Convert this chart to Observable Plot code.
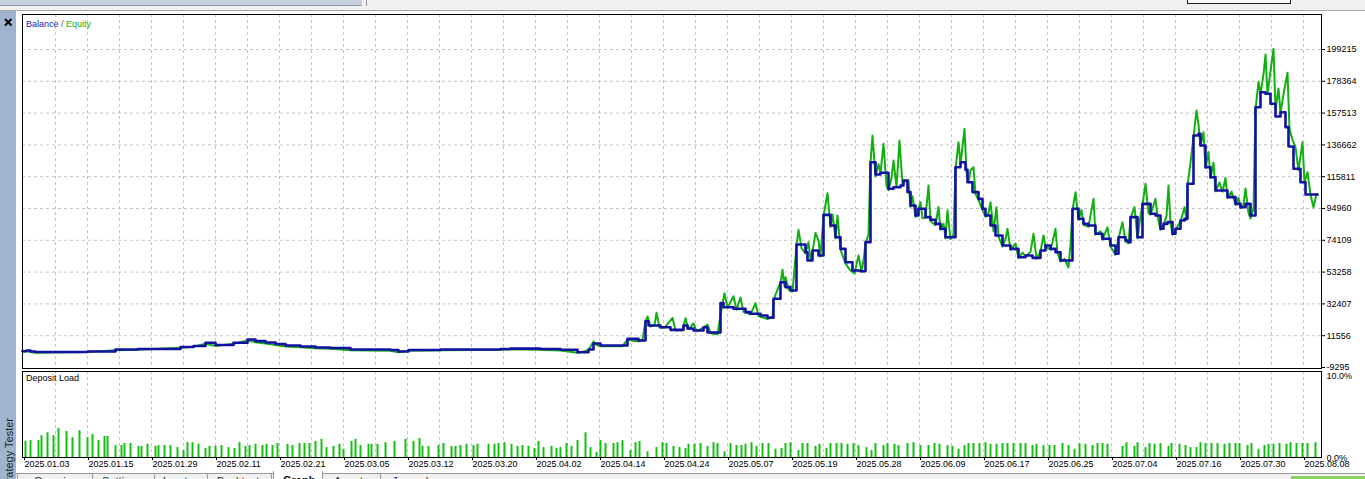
<!DOCTYPE html>
<html><head><meta charset="utf-8">
<script src="https://cdn.jsdelivr.net/npm/d3@7"></script>
<script src="https://cdn.jsdelivr.net/npm/@observablehq/plot@0.6"></script>
<style>
body{margin:0;background:#fff;}
#wrap{position:relative;width:1365px;height:479px;overflow:hidden;background:#fff;font-family:"Liberation Sans",Arial,sans-serif;}
.abs{position:absolute;}
#wrap svg{position:absolute;left:0;}
</style></head><body><div id="wrap"></div>
<script>
// ---- data ----
const yTicks = [-9295, 11556, 32407, 53258, 74109, 94960, 115811, 136662, 157513, 178364, 199215];
const loadTicks = [0, 10];
const dateLabels = ["2025.01.03","2025.01.15","2025.01.29","2025.02.11","2025.02.21","2025.03.05","2025.03.12","2025.03.20","2025.04.02","2025.04.14","2025.04.24","2025.05.07","2025.05.19","2025.05.28","2025.06.09","2025.06.17","2025.06.25","2025.07.04","2025.07.16","2025.07.30","2025.08.08"];
const dateBars = [1,65,129,193,257,321,385,449,513,577,641,705,769,833,897,961,1025,1089,1153,1217,1281];

// balance: [bar, value]
const balance = [[0,1400],[4,1850],[8,1200],[13,850],[28,900],[65,1200],[93,2500],[115,2800],[158,4100],[171,4800],
[183,6900],[193,5500],[211,6900],[225,9100],[233,8000],[243,7100],[253,6100],[263,5100],[278,4500],[293,3800],
[308,3500],[328,2500],[368,2200],[376,1200],[386,2200],[418,2500],[478,2800],[488,3100],[518,2800],[538,2300],
[555,740],[566,2500],[571,6400],[578,5130],[605,9500],[616,8400],[623,21000],[626,18200],[638,17100],[648,15400],
[661,18200],[665,16300],[671,15000],[681,17100],[685,13700],[698,32900],[701,30200],[711,29200],[723,27000],[728,25900],
[738,24800],[745,23300],[751,35800],[758,46600],[763,43400],[768,41200],[774,71400],[783,66300],[785,60900],[790,67400],
[796,64100],[801,90800],[808,83800],[813,76100],[818,68500],[823,59700],[830,54300],[838,53800],[843,72900],[848,125300],
[853,117300],[858,118400],[866,107900],[871,108900],[878,110000],[881,113300],[885,105700],[888,96900],[893,90400],[896,94800],
[903,89300],[908,87600],[913,84900],[918,81700],[923,76100],[933,122000],[938,125300],[943,120400],[945,112200],[950,105700],
[956,101300],[960,94800],[963,90400],[968,83800],[973,77300],[980,70700],[988,68500],[996,63000],[1003,64100],[1010,62600],
[1018,67400],[1023,70700],[1028,68500],[1033,66300],[1038,60900],[1050,94800],[1056,88200],[1061,84900],[1066,83800],[1073,78400],
[1080,75100],[1088,70700],[1093,65300],[1096,76100],[1103,74000],[1106,72900],[1108,89300],[1115,76100],[1120,98000],[1128,91500],
[1133,90400],[1138,81700],[1141,84900],[1145,86000],[1150,78400],[1153,81700],[1158,87100],[1162,88200],[1165,111200],[1171,142800],
[1176,143900],[1178,136300],[1183,122000],[1188,115500],[1193,106800],[1205,102400],[1213,98000],[1218,95800],[1223,98000],[1228,90400],
[1233,161400],[1238,171200],[1243,170200],[1248,163600],[1253,155300],[1258,158100],[1263,148300],[1266,135600],[1271,121000],[1278,112200],
[1283,104100],[1295,104100]];

// equity: [bar, value]
const equity = [[0,1000],[4,1500],[8,800],[13,400],[28,500],[65,800],[93,2000],[115,2300],[158,3600],[171,4300],
[183,6300],[193,4800],[211,6200],[225,8500],[233,7300],[243,6500],[253,5500],[263,4500],[278,4000],[293,3300],
[308,3000],[328,2000],[368,1700],[376,700],[386,1700],[418,2000],[478,2300],[488,2600],[518,2300],[538,1800],
[555,300],[566,2000],[571,7800],[574,5500],[578,4600],[600,4700],[605,9000],[612,8000],[616,7900],[620,9000],
[623,21000],[625,24150],[628,17500],[632,18500],[634,26570],[637,17000],[642,16800],[650,23290],[653,15000],[660,15200],
[663,23000],[666,15800],[671,19560],[674,14600],[681,16800],[685,18900],[688,13200],[695,12500],[698,25000],[702,39430],
[705,29800],[711,37460],[714,28500],[718,36600],[721,27200],[728,25500],[733,32870],[736,24500],[745,22500],[750,24000],
[751,35000],[756,43360],[758,46000],[760,54770],[762,44000],[763,49920],[766,42000],[770,40500],[772,55000],[774,71000],
[776,81000],[779,69000],[783,65500],[786,72860],[788,61000],[790,66500],[793,79030],[796,73980],[798,63500],[801,90000],
[805,104990],[808,83000],[810,91000],[813,75500],[815,90370],[818,68000],[823,59000],[827,55000],[832,52340],[836,64140],
[839,53500],[841,60870],[843,72000],[846,78000],[848,125000],[850,142830],[853,116000],[856,124000],[858,118000],[861,137390],
[864,110000],[866,107000],[869,115000],[871,126440],[874,109000],[877,139550],[880,111000],[883,113000],[886,113320],[888,96000],
[890,103000],[893,89500],[896,95000],[898,99090],[900,88600],[903,89000],[906,110040],[908,86800],[913,84000],[916,96000],
[918,81000],[921,85000],[923,75500],[925,93650],[928,74800],[931,78000],[933,121000],[936,138430],[938,124000],[942,147220],
[944,119000],[946,112000],[948,120000],[951,122040],[953,104500],[956,100500],[960,94000],[963,89500],[966,92000],[968,99090],
[971,80000],[974,95810],[976,76500],[980,70000],[983,75000],[985,81650],[988,67800],[993,72000],[996,62500],[1000,66000],
[1003,63500],[1008,66500],[1011,78370],[1014,62000],[1018,66800],[1021,77260],[1023,70000],[1028,68000],[1030,73000],[1033,81650],
[1035,65700],[1038,60200],[1042,62000],[1046,56270],[1048,71810],[1050,94000],[1053,105650],[1056,87500],[1059,94000],[1061,84200],
[1066,83000],[1071,101320],[1073,77800],[1078,80000],[1080,74500],[1085,82700],[1088,70000],[1093,64700],[1096,75500],[1100,85980],
[1103,73300],[1106,72200],[1108,88600],[1112,95810],[1115,75500],[1118,90000],[1120,97500],[1123,111160],[1126,92000],[1128,90900],
[1133,101320],[1135,89800],[1138,81000],[1141,84200],[1144,90000],[1146,110040],[1148,85400],[1150,77800],[1153,81000],[1158,86500],
[1162,95810],[1164,87500],[1165,110000],[1168,125000],[1171,142000],[1174,159220],[1176,150000],[1178,136000],[1181,145000],[1183,121500],
[1186,132000],[1188,115000],[1191,125000],[1193,106200],[1197,112000],[1200,106000],[1203,115000],[1205,101800],[1209,106000],[1213,97400],
[1216,102000],[1218,95200],[1221,97400],[1223,108000],[1226,92000],[1228,88400],[1231,95000],[1233,160000],[1236,178000],[1238,170000],
[1241,183000],[1243,195940],[1245,170000],[1248,185000],[1251,199680],[1253,160000],[1256,173650],[1258,157500],[1261,170000],[1265,183940],
[1267,147000],[1270,140000],[1273,135000],[1276,120000],[1280,138430],[1282,112000],[1285,118760],[1288,104000],[1291,95810],[1294,104500],
[1295,103800]];

// deposit load: [bar, percent]
const depositLoad = [[3,1.95],[8,2.05],[16,2.05],[19,2.65],[25,3.0],[31,2.65],[36,3.5],[44,3.15],[50,2.4],[57,3.25],
[65,2.4],[70,2.8],[76,2.05],[82,2.55],[85,2.55],[93,1.45],[99,1.45],[102,1.7],[108,1.7],[116,1.35],
[119,1.35],[125,1.6],[133,1.35],[136,1.45],[142,1.45],[148,1.45],[155,1.2],[161,0.85],[165,1.8],[170,1.8],
[176,1.6],[183,1.1],[187,1.35],[193,1.35],[199,1.45],[206,1.2],[212,1.1],[217,1.8],[223,1.35],[227,1.45],
[233,1.6],[240,1.45],[244,1.6],[250,1.45],[255,1.7],[265,1.6],[270,1.45],[277,1.7],[282,1.7],[287,1.7],
[293,1.95],[299,2.2],[304,1.2],[311,1.35],[317,1.6],[321,1.0],[329,1.95],[333,2.2],[338,1.45],[346,1.6],
[349,1.6],[355,1.6],[363,1.8],[372,1.95],[383,2.2],[391,1.95],[397,2.3],[400,1.35],[406,1.35],[416,1.45],
[421,1.7],
[429,1.35],[433,1.35],[438,1.45],[444,1.6],[451,1.45],[455,1.6],[466,1.6],[472,1.6],[476,1.7],[482,1.8],
[489,1.6],[495,1.35],[500,1.45],[506,1.35],[512,1.1],[516,1.95],[521,1.2],[529,1.35],[534,1.1],[538,1.2],
[544,1.7],[549,1.35],[555,2.05],[563,3.0],[568,1.2],[574,0.6],[578,2.05],[583,1.7],[591,1.7],[595,1.8],
[600,2.05],[608,0.85],[613,1.8],[617,1.95],[625,0.7],[634,1.2],[640,1.8],[644,1.7],[651,1.35],[657,1.2],
[663,1.1],[666,1.6],[672,1.6],[678,1.7],[685,1.35],[691,1.8],[695,1.7],[702,0.7],[708,1.7],[714,1.45],
[719,1.45],[723,1.6],[729,1.8],[734,1.35],[740,1.7],[746,1.7],[753,1.0],[759,1.1],[763,1.7],[768,1.8],
[776,0.85],[780,1.7],[785,1.7],[793,1.35],[797,1.6],[804,1.1],[808,1.7],[814,1.7],[819,1.7],[825,1.6],
[831,1.7],[836,1.45],[844,1.2],[849,0.85],[853,1.7],[861,1.45],[865,1.7],[872,1.6],[876,1.45],
[885,1.7],[891,1.8],[898,1.45],[906,1.45],[912,1.7],[917,1.6],[925,1.45],[930,1.35],[936,1.0],[942,1.45],
[946,1.7],[951,1.7],[957,1.7],[963,1.8],[968,1.6],[974,1.6],[980,1.7],[985,1.7],[991,1.7],[998,1.7],
[1003,1.7],[1010,1.45],[1014,1.6],[1021,1.45],[1027,1.45],[1032,1.45],[1040,1.7],[1046,1.45],[1052,1.0],[1057,1.7],
[1063,1.6],[1070,1.45],[1075,1.7],[1080,1.7],[1085,1.6],[1100,1.35],[1104,1.8],[1112,1.35],[1115,1.8],[1123,1.2],
[1127,1.7],[1132,1.6],[1138,1.7],[1146,1.35],[1149,1.7],[1157,1.6],[1163,1.45],[1168,1.2],[1174,1.2],[1178,1.8],
[1183,1.7],[1189,1.7],[1195,1.7],[1202,1.6],[1207,1.7],[1213,1.7],[1217,1.7],[1225,1.45],[1229,1.7],[1236,1.0],
[1242,1.45],[1246,1.6],[1251,1.6],[1257,1.7],[1264,1.6],[1268,1.8],[1274,1.7],[1280,1.7],[1285,1.7],[1293,1.8]];

// ---- build ----
const balanceRows = balance.map(([bar, value]) => ({bar, value}));
const equityRows = equity.map(([bar, value]) => ({bar, value}));
const loadRows = depositLoad.map(([bar, pct]) => ({bar, pct}));
const labelOf = new Map(dateBars.map((b, i) => [b, dateLabels[i]]));
const gridBars = d3.range(33, 1299, 32);
const barDomain = [0, 1299];
const font = {fontFamily: "'Liberation Sans', Arial, sans-serif", fontSize: "9px", color: "#000", background: "transparent", overflow: "visible"};
const gridStyle = {stroke: "#c4c4c4", strokeDasharray: "3,3", strokeWidth: 1};

const main = Plot.plot({
  width: 1365, height: 370,
  marginLeft: 22, marginRight: 44, marginTop: 14, marginBottom: 2,
  style: font,
  x: {domain: barDomain, axis: null},
  y: {domain: [-9951, 222167], axis: null, label: null},
  marks: [
    Plot.ruleY(yTicks.slice(1), gridStyle),
    Plot.ruleX(gridBars, gridStyle),
    Plot.line(equityRows, {x: "bar", y: "value", stroke: "#10b010", strokeWidth: 2}),
    Plot.line(balanceRows, {x: "bar", y: "value", curve: "step-after", stroke: "#1212a2", strokeWidth: 2.6}),
    Plot.frame({stroke: "#000"}),
    Plot.axisY(yTicks, {anchor: "right", tickSize: 3, tickPadding: 2, tickFormat: d => String(d), label: null, fill: "#000"})
  ]
});
main.style.top = "0px";

const dep = Plot.plot({
  width: 1365, height: 104,
  marginLeft: 22, marginRight: 44, marginTop: 2, marginBottom: 16,
  style: font,
  x: {domain: barDomain, label: null, axis: null},
  y: {domain: [0, 10.43], label: null, axis: null},
  marks: [
    Plot.ruleX(gridBars, gridStyle),
    Plot.ruleX(loadRows, {x: "bar", y1: 0, y2: "pct", stroke: "#12c012", strokeWidth: 2}),
    Plot.frame({stroke: "#000"}),
    Plot.axisY(loadTicks, {anchor: "right", tickSize: 0, tickPadding: 5, dy: 1, tickFormat: d => d.toFixed(1) + "%", label: null, fill: "#000"}),
    Plot.axisX(dateBars, {anchor: "bottom", tickSize: 3, tickPadding: 0, textAnchor: "start", dx: 1, tickFormat: d => labelOf.get(d), label: null, fill: "#000"})
  ]
});
dep.style.top = "369px";

const wrap = document.getElementById("wrap");
wrap.appendChild(main);
wrap.appendChild(dep);

wrap.insertAdjacentHTML("beforeend", `
<div class="abs" style="left:0;top:0;width:1365px;height:10px;background:#f0f0f0;border-bottom:1px solid #a8a8a8"></div>
<div class="abs" style="left:0;top:0;width:362px;height:5px;background:#c7d0dc;border-bottom:1px solid #8c98a8"></div>
<div class="abs" style="left:366px;top:0;width:1px;height:6px;background:#9a9a9a"></div>
<div class="abs" style="left:1187px;top:-2px;width:102px;height:4px;background:#fafafa;border:1px solid #222"></div>
<div class="abs" style="left:0;top:11px;width:16px;height:468px;background:#9fb5cf"></div>
<svg class="abs" style="left:0;top:0" width="17" height="479">
  <path d="M5,19 L11.5,25.5 M11.5,19 L5,25.5" stroke="#000" stroke-width="2"/>
  <text transform="translate(13,418) rotate(-90)" text-anchor="end" font-family="Liberation Sans, Arial, sans-serif" font-size="11" fill="#1c1c1c">Strategy Tester</text>
</svg>
<div class="abs" style="left:26px;top:18px;font-size:9px;line-height:12px;white-space:nowrap"><span style="color:#2020c8">Balance</span><span style="color:#555"> / </span><span style="color:#18b018">Equity</span></div>
<div class="abs" style="left:26px;top:372px;font-size:9px;line-height:12px;color:#000">Deposit Load</div>
<div class="abs" style="left:16px;top:473px;width:1349px;height:6px;background:#f0f0f0;border-top:1px solid #9a9a9a"></div>
<div class="abs" style="left:17px;top:473px;width:253px;height:6px;border-left:1px solid #9a9a9a;border-right:1px solid #9a9a9a"></div>
<div class="abs" style="left:92px;top:474px;width:1px;height:5px;background:#9a9a9a"></div>
<div class="abs" style="left:154px;top:474px;width:1px;height:5px;background:#9a9a9a"></div>
<div class="abs" style="left:207px;top:474px;width:1px;height:5px;background:#9a9a9a"></div>
<div class="abs" style="left:273px;top:471px;width:48px;height:8px;background:#fff;border-left:1px solid #9a9a9a;border-right:1px solid #9a9a9a"></div>
<div class="abs" style="left:380px;top:474px;width:1px;height:5px;background:#9a9a9a"></div>
<div class="abs" style="left:1291px;top:476px;width:74px;height:3px;background:#8fd15e"></div>
<div class="abs" style="left:34px;top:475px;font-size:11px;line-height:13px;color:#222">Overview</div>
<div class="abs" style="left:102px;top:475px;font-size:11px;line-height:13px;color:#222">Settings</div>
<div class="abs" style="left:163px;top:475px;font-size:11px;line-height:13px;color:#222">Inputs</div>
<div class="abs" style="left:217px;top:475px;font-size:11px;line-height:13px;color:#222">Backtest</div>
<div class="abs" style="left:283px;top:474px;font-size:11px;line-height:13px;font-weight:bold;color:#111">Graph</div>
<div class="abs" style="left:334px;top:475px;font-size:11px;line-height:13px;color:#222">Agents</div>
<div class="abs" style="left:392px;top:475px;font-size:11px;line-height:13px;color:#222">Journal</div>
`);
</script></body></html>
